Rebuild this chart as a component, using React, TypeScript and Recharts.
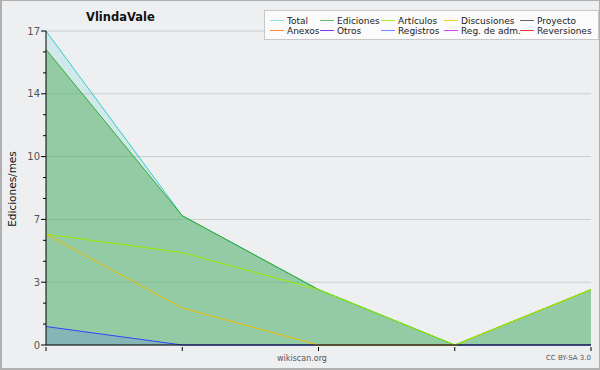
import { Area, AreaChart, CartesianGrid, Line, XAxis, YAxis } from "recharts";

const months = ["2019-01", "2019-02", "2019-03", "2019-04", "2019-05"];
const total = [17, 7, 3, 0, 3];
const ediciones = [16, 7, 3, 0, 3];
const articulos = [6, 5, 3, 0, 3];
const discusiones = [6, 2, 0, 0, 3];
const registros = [1, 0, 0, 0, 0];

const yMax = 17;
const yTickLabels = [0, 3, 7, 10, 14, 17];

const legendRows = [
  ["Total", "Ediciones", "Artículos", "Discusiones", "Proyecto"],
  ["Anexos", "Otros", "Registros", "Reg. de adm.", "Reversiones"],
];
const legendColors = [
  ["#8fdede", "#66bb66", "#aaee22", "#ffcc22", "#666666"],
  ["#ff8833", "#8833ee", "#7788ff", "#dd44ee", "#ee3333"],
];
const legendCols = [268, 318, 379, 442, 518];

const data = months.map((m, i) => ({
  month: m,
  total: total[i],
  ediciones: ediciones[i],
  articulos: articulos[i],
  discusiones: discusiones[i],
  registros: registros[i],
}));

// major ticks are evenly spaced, labels rounded; two minor ticks between each
const majorStep = yMax / (yTickLabels.length - 1);
const majorTicks = yTickLabels.map((_, i) => i * majorStep);
const allTicks: number[] = [];
for (let i = 0; i < (yTickLabels.length - 1) * 3 + 1; i++) allTicks.push((i * majorStep) / 3);

const font = "'DejaVu Sans', sans-serif";

function YTick(props: any) {
  const { x, y, payload } = props;
  const k = payload.value / majorStep;
  const major = Math.abs(k - Math.round(k)) < 1e-6;
  return (
    <g>
      <line x1={x - (major ? 5 : 3)} x2={x} y1={y} y2={y} stroke="#000" />
      {major && (
        <text x={x - 6} y={y} dy={3.5} textAnchor="end" fontSize={10} fill="#555" fontFamily={font}>
          {yTickLabels[Math.round(k)]}
        </text>
      )}
    </g>
  );
}

function XTick(props: any) {
  const { x, y } = props;
  return <line x1={x} x2={x} y1={y} y2={y + 4} stroke="#000" />;
}

export default function App() {
  return (
    <div
      style={{
        position: "absolute",
        left: 0,
        top: 0,
        width: 600,
        height: 370,
        background: "#eeeff1",
        boxSizing: "border-box",
        border: "1px solid #b0b0b0",
        borderLeftWidth: 2,
        borderBottomWidth: 2,
        fontFamily: font,
      }}
    >
      <div style={{ position: "absolute", left: 0, top: 0 }}>
        <AreaChart width={598} height={367} data={data} margin={{ top: 30, right: 9, bottom: 0, left: 0 }}>
          <CartesianGrid vertical={false} horizontalValues={majorTicks} stroke="#cccccc" />
          <XAxis
            dataKey="month"
            axisLine={{ stroke: "#000" }}
            tickLine={false}
            tick={<XTick />}
            tickSize={0}
            height={23}
            interval={0}
          />
          <YAxis
            type="number"
            domain={[0, yMax]}
            ticks={allTicks}
            interval={0}
            width={44}
            axisLine={{ stroke: "#000" }}
            tickLine={false}
            tickSize={0}
            tickMargin={0}
            tick={<YTick />}
          />
          <Area
            type="linear"
            dataKey="total"
            stroke="#33cccc"
            strokeWidth={1}
            fill="#33cccc"
            fillOpacity={0.15}
            isAnimationActive={false}
          />
          <Area
            type="linear"
            dataKey="ediciones"
            stroke="#33aa33"
            strokeWidth={1}
            fill="#40a845"
            fillOpacity={0.43}
            isAnimationActive={false}
          />
          <Area
            type="linear"
            dataKey="registros"
            stroke="#3344ff"
            strokeWidth={1}
            fill="#5060ff"
            fillOpacity={0.2}
            isAnimationActive={false}
          />
          <Line type="linear" dataKey="discusiones" stroke="#eebb00" strokeWidth={1} dot={false} isAnimationActive={false} />
          <Line type="linear" dataKey="articulos" stroke="#99ee00" strokeWidth={1} dot={false} isAnimationActive={false} />
        </AreaChart>
      </div>

      <div style={{ position: "absolute", left: 84, top: 9, fontSize: 11.5, fontWeight: "bold", color: "#111" }}>
        VlindaVale
      </div>

      <div
        style={{
          position: "absolute",
          left: 10,
          top: 188,
          fontSize: 10.5,
          color: "#111",
          transform: "translate(-50%, -50%) rotate(-90deg)",
          whiteSpace: "nowrap",
        }}
      >
        Ediciones/mes
      </div>

      <div style={{ position: "absolute", left: 0, width: 600, top: 353, textAlign: "center", fontSize: 8, color: "#555" }}>
        wikiscan.org
      </div>
      <div style={{ position: "absolute", right: 8, top: 353, fontSize: 7, color: "#555" }}>CC BY-SA 3.0</div>

      <svg width={335} height={30} style={{ position: "absolute", left: 262, top: 9 }}>
        <rect x={0.5} y={0.5} width={334} height={29} fill="#fbfbfb" stroke="#c8c8c8" />
        {legendRows.map((row, r) =>
          row.map((name, c) => {
            const x = legendCols[c] - 262;
            const y = 10.5 + r * 10;
            return (
              <g key={name}>
                <line x1={x} x2={x + 14} y1={y} y2={y} stroke={legendColors[r][c]} strokeWidth={1} />
                <text x={x + 17} y={y + 3.5} fontSize={9} fill="#222" fontFamily={font}>
                  {name}
                </text>
              </g>
            );
          })
        )}
      </svg>
    </div>
  );
}
